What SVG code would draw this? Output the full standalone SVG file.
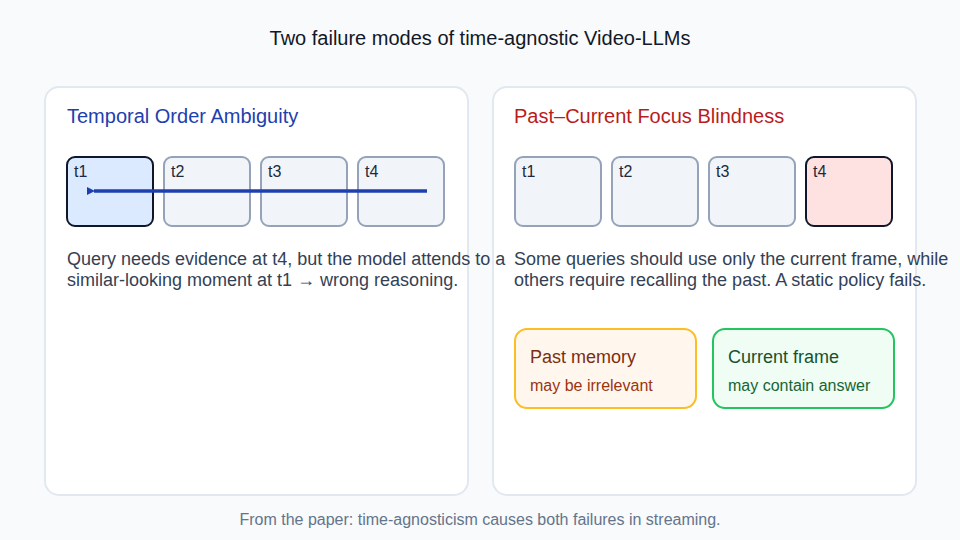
<svg xmlns="http://www.w3.org/2000/svg" width="960" height="540" viewBox="0 0 960 540">
<defs>
<marker id="ah" markerWidth="8" markerHeight="8" refX="1" refY="4" orient="auto" markerUnits="userSpaceOnUse">
<path d="M8,0 L0,4 L8,8 Z" fill="#1e40af"/>
</marker>
<style>
text{font-family:"Liberation Sans",Arial,sans-serif}
.panel{fill:#ffffff;stroke:#e2e8f0;stroke-width:2}
.frame{fill:#f1f5f9;stroke:#94a3b8;stroke-width:2}
.flab{font-size:16px;fill:#1e293b}
.body{font-size:18px;fill:#334155}
</style>
</defs>
<rect width="960" height="540" fill="#f8fafc"/>
<text x="480" y="45" text-anchor="middle" font-size="20" fill="#111827">Two failure modes of time-agnostic Video-LLMs</text>
<g id="panel-left">
<rect class="panel" x="45" y="87" width="423" height="408" rx="14"/>
<text x="67" y="123" font-size="20" fill="#1e40af">Temporal Order Ambiguity</text>
</g>
<g id="panel-right">
<rect class="panel" x="493" y="87" width="423" height="408" rx="14"/>
<text x="514" y="123" font-size="20" fill="#b91c1c">Past–Current Focus Blindness</text>
</g>
<g id="l-t1"><rect x="67" y="157" width="86" height="69" rx="8" fill="#dbeafe" stroke="#0f172a" stroke-width="2"/><text class="flab" x="74" y="177">t1</text></g>
<g id="l-t2"><rect class="frame" x="164" y="157" width="86" height="69" rx="8"/><text class="flab" x="171" y="177">t2</text></g>
<g id="l-t3"><rect class="frame" x="261" y="157" width="86" height="69" rx="8"/><text class="flab" x="268" y="177">t3</text></g>
<g id="l-t4"><rect class="frame" x="358" y="157" width="86" height="69" rx="8"/><text class="flab" x="365" y="177">t4</text></g>
<g id="connectors">
<line x1="427" y1="191" x2="94" y2="191" stroke="#1e40af" stroke-width="3.5" marker-end="url(#ah)"/>
</g>
<g id="left-text">
<text class="body" x="67" y="265">Query needs evidence at t4, but the model attends to a</text>
<text class="body" x="67" y="286">similar-looking moment at t1 → wrong reasoning.</text>
</g>
<g id="r-t1"><rect class="frame" x="515" y="157" width="86" height="69" rx="8"/><text class="flab" x="522" y="177">t1</text></g>
<g id="r-t2"><rect class="frame" x="612" y="157" width="86" height="69" rx="8"/><text class="flab" x="619" y="177">t2</text></g>
<g id="r-t3"><rect class="frame" x="709" y="157" width="86" height="69" rx="8"/><text class="flab" x="716" y="177">t3</text></g>
<g id="r-t4"><rect x="806" y="157" width="86" height="69" rx="8" fill="#fee2e2" stroke="#0f172a" stroke-width="2"/><text class="flab" x="813" y="177">t4</text></g>
<g id="right-text">
<text class="body" x="514" y="265">Some queries should use only the current frame, while</text>
<text class="body" x="514" y="286">others require recalling the past. A static policy fails.</text>
</g>
<g id="past-memory">
<rect x="515" y="329" width="181" height="79" rx="12" fill="#fff7ed" stroke="#fbbf24" stroke-width="2"/>
<text x="530" y="363" font-size="18" fill="#7c2d12">Past memory</text>
<text x="530" y="391" font-size="16" fill="#9a3412">may be irrelevant</text>
</g>
<g id="current-frame">
<rect x="713" y="329" width="181" height="79" rx="12" fill="#f0fdf4" stroke="#22c55e" stroke-width="2"/>
<text x="728" y="363" font-size="18" fill="#14532d">Current frame</text>
<text x="728" y="391" font-size="16" fill="#166534">may contain answer</text>
</g>
<text x="480" y="525" text-anchor="middle" font-size="16" fill="#64748b">From the paper: time-agnosticism causes both failures in streaming.</text>
</svg>
